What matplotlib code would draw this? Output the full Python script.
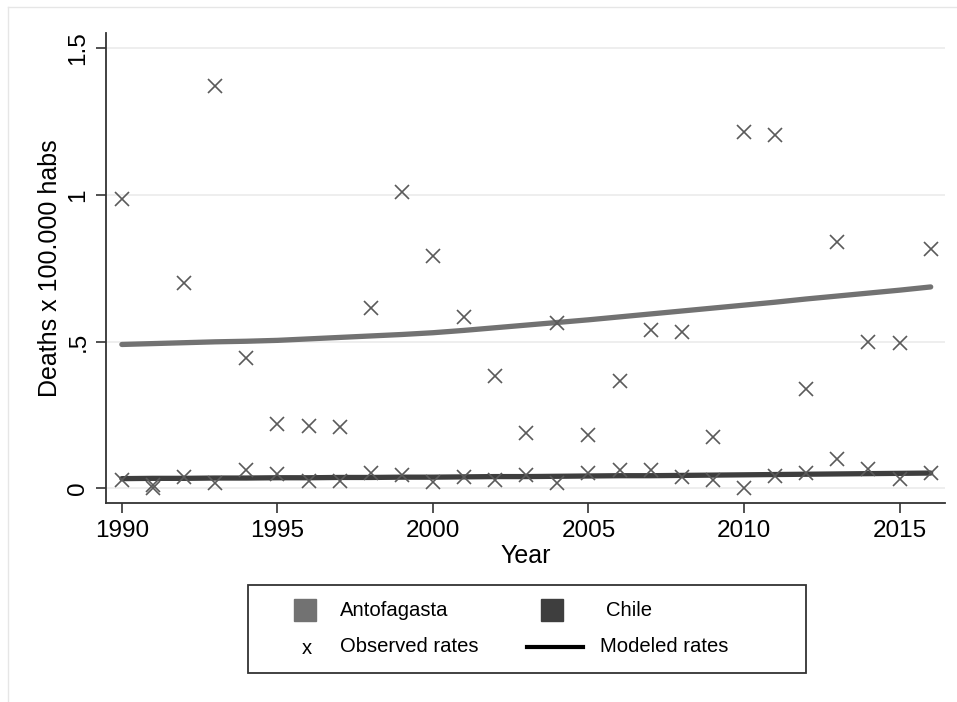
import numpy as np
import matplotlib
matplotlib.use("Agg")
import matplotlib.pyplot as plt
from matplotlib.patches import Rectangle
from matplotlib.lines import Line2D

plt.rcParams['font.family'] = ['Liberation Sans', 'DejaVu Sans']

# data
years = list(range(1990, 2017))

antofagasta_obs = [0.985, 0.00, 0.70, 1.37, 0.445, 0.218, 0.212, 0.208, 0.615, 1.008,
                   0.79, 0.585, 0.384, 0.188, 0.562, 0.183, 0.365, 0.54, 0.534, 0.175,
                   1.215, 1.203, 0.338, 0.84, 0.498, 0.494, 0.815]
chile_obs = [0.030, 0.010, 0.037, 0.019, 0.064, 0.048, 0.024, 0.024, 0.053, 0.047,
             0.022, 0.039, 0.030, 0.045, 0.018, 0.052, 0.064, 0.064, 0.037, 0.028,
             0.000, 0.041, 0.052, 0.100, 0.065, 0.032, 0.052]

antofagasta_mod = [0.490, 0.493, 0.496, 0.499, 0.501, 0.504, 0.509, 0.514, 0.519, 0.524,
                   0.530, 0.538, 0.547, 0.556, 0.565, 0.574, 0.584, 0.594, 0.604, 0.614,
                   0.624, 0.634, 0.645, 0.655, 0.665, 0.675, 0.686]
chile_mod = [0.033, 0.034, 0.034, 0.035, 0.035, 0.036, 0.036, 0.037, 0.037, 0.038,
             0.038, 0.039, 0.040, 0.040, 0.041, 0.042, 0.043, 0.043, 0.044, 0.045,
             0.046, 0.047, 0.048, 0.049, 0.050, 0.051, 0.052]

yticks = [0, 0.5, 1, 1.5]
ytick_labels = ['0', '.5', '1', '1.5']
xticks = [1990, 1995, 2000, 2005, 2010, 2015]

col_ant = '#727272'
col_chi = '#3e3e3e'
col_x = '#5a5a5a'

fig = plt.figure(figsize=(9.57, 7.02), dpi=100)
ax = fig.add_axes([106/957, 1 - 503/702, (945 - 106)/957, (503 - 33)/702])

ax.plot(years, antofagasta_mod, color=col_ant, lw=3.8, solid_capstyle='round', zorder=3)
ax.plot(years, chile_mod, color=col_chi, lw=3.8, solid_capstyle='round', zorder=3)
ax.plot(years, antofagasta_obs, 'x', color=col_x, ms=9.5, mew=1.2, zorder=4)
ax.plot(years, chile_obs, 'x', color=col_x, ms=9.5, mew=1.2, zorder=4)

ax.set_xlim(1989.49, 2016.46)
ax.set_ylim(-0.05, 1.551)
ax.set_yticks(yticks)
ax.set_yticklabels(ytick_labels, rotation=90, va='center')
ax.set_xticks(xticks)
ax.grid(axis='y', color='#ebebeb', lw=1.2)
ax.set_axisbelow(True)
for s in ['top', 'right']:
    ax.spines[s].set_visible(False)
for s in ['left', 'bottom']:
    ax.spines[s].set_color('#333333')
    ax.spines[s].set_linewidth(1.3)
ax.tick_params(axis='both', labelsize=17.5, length=7, width=1.2, color='#333333', pad=5)
ax.set_xlabel('Year', fontsize=18, labelpad=2)
ax.set_ylabel('Deaths x 100.000 habs', fontsize=18, labelpad=4)

# outer light frame
fig.add_artist(Line2D([8/957, 8/957], [0, 1 - 7/702], color='#e6e6e6', lw=1))
fig.add_artist(Line2D([8/957, 1], [1 - 7/702, 1 - 7/702], color='#e6e6e6', lw=1))

# legend
fig.add_artist(Rectangle((248/957, 1 - 673/702), (806 - 248)/957, (673 - 585)/702,
                         fill=False, edgecolor='#333333', lw=1.3))
fig.add_artist(Rectangle((294/957, 1 - 621/702), 22/957, 22/702, color=col_ant))
fig.add_artist(Rectangle((541/957, 1 - 621/702), 22/957, 22/702, color=col_chi))
fig.text(340/957, 1 - 610/702, 'Antofagasta', fontsize=14.6, va='center')
fig.text(606/957, 1 - 610/702, 'Chile', fontsize=14.6, va='center')
fig.text(307/957, 1 - 648/702, 'x', fontsize=14.6, va='center', ha='center')
fig.text(340/957, 1 - 647/702, 'Observed rates', fontsize=14.6, va='center')
fig.add_artist(Line2D([527/957, 583/957], [1 - 647/702, 1 - 647/702], color='black', lw=3))
fig.text(600/957, 1 - 647/702, 'Modeled rates', fontsize=14.6, va='center')

fig.savefig('out.png', dpi=100)
